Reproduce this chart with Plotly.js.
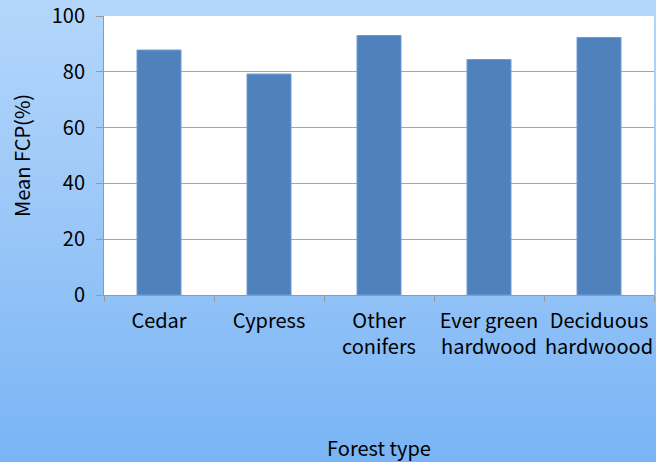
<!DOCTYPE html>
<html>
<head>
<meta charset="utf-8">
<script src="https://cdn.plot.ly/plotly-3.0.1.min.js"></script>
<style>
html,body{margin:0;padding:0;width:656px;height:462px;overflow:hidden;}
body{background:linear-gradient(to bottom,#b4d6fb 0%,#9cc8f8 45%,#79b4f5 100%);}
#chart{width:656px;height:462px;}
</style>
</head>
<body>
<div id="chart"></div>
<script>
const categories = ["Cedar", "Cypress", "Other<br>conifers", "Ever green<br>hardwood", "Deciduous<br>hardwoood"];
const meanFCP = [87.8, 79.2, 93.0, 84.4, 92.3];
const yTicks = [0, 20, 40, 60, 80, 100];

const font = "'Noto Sans CJK JP', 'Noto Sans', sans-serif";

Plotly.newPlot('chart', [{
  type: 'bar',
  x: categories,
  y: meanFCP,
  marker: {color: '#4f81bd', line: {color: '#6f9bd3', width: 1}},
  width: 0.4,
  hoverinfo: 'none'
}], {
  width: 656, height: 462,
  margin: {l: 104, r: 2, t: 16, b: 167},
  paper_bgcolor: 'rgba(0,0,0,0)',
  plot_bgcolor: '#ffffff',
  font: {family: font, size: 20, color: '#000000'},
  showlegend: false,
  xaxis: {
    type: 'category',
    tickson: 'boundaries',
    tickangle: 0,
    ticks: 'outside', ticklen: 6, tickcolor: '#999999', tickwidth: 1,
    showline: true, linecolor: '#999999', linewidth: 1,
    showgrid: false,
    ticklabelstandoff: 8,
    tickfont: {family: font, size: 20},
    title: {text: 'Forest type', font: {family: font, size: 20}, standoff: 82},
    automargin: false
  },
  yaxis: {
    range: [0, 100],
    tickvals: yTicks,
    ticks: 'outside', ticklen: 7, tickcolor: '#999999', tickwidth: 1,
    showline: true, linecolor: '#999999', linewidth: 1,
    showgrid: true, gridcolor: '#a6a6a6', gridwidth: 1.3,
    zeroline: false,
    ticklabelstandoff: 7,
    tickfont: {family: font, size: 20},
    title: {text: 'Mean FCP(%)', font: {family: font, size: 20}, standoff: 15},
    automargin: false
  }
}, {staticPlot: true, displayModeBar: false});
</script>
</body>
</html>
